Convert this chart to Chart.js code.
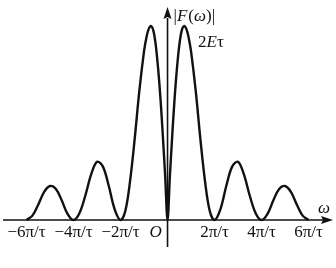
<!DOCTYPE html>
<html>
<head>
<meta charset="utf-8">
<script src="https://cdn.jsdelivr.net/npm/chart.js@4"></script>
<style>
    html, body { margin: 0; padding: 0; background: #fff; }
    #wrap { width: 336px; height: 268px; }
</style>
</head>
<body>
<div id="wrap"><canvas id="specChart"></canvas></div>
<script>
// omega in units of pi/tau, |F| in units of E*tau (peak = 2E*tau)
const omega = [
    -6.0, -5.75, -5.5, -5.25, -5.0, -4.75, -4.5, -4.25, -4.0,
    -3.75, -3.5, -3.25, -3.0, -2.75, -2.5, -2.25, -2.0,
    -1.8, -1.6, -1.4, -1.2, -1.0, -0.9, -0.8, -0.7, -0.6, -0.5, -0.4, -0.3, -0.2, -0.1,
    0,
    0.1, 0.2, 0.3, 0.4, 0.5, 0.6, 0.7, 0.8, 0.9, 1.0, 1.2, 1.4, 1.6, 1.8,
    2.0, 2.25, 2.5, 2.75, 3.0, 3.25, 3.5, 3.75,
    4.0, 4.25, 4.5, 4.75, 5.0, 5.25, 5.5, 5.75, 6.0
];
const magnitude = [
    0, 0.045, 0.16, 0.29, 0.35, 0.32, 0.2, 0.06, 0,
    0.07, 0.25, 0.47, 0.6, 0.55, 0.35, 0.11, 0,
    0.09, 0.39, 0.83, 1.33, 1.74, 1.88, 1.97, 2.0, 1.95, 1.80, 1.56, 1.25, 0.87, 0.45,
    0,
    0.45, 0.87, 1.25, 1.56, 1.80, 1.95, 2.0, 1.97, 1.88, 1.74, 1.33, 0.83, 0.39, 0.09,
    0, 0.11, 0.35, 0.55, 0.6, 0.47, 0.25, 0.07,
    0, 0.06, 0.2, 0.32, 0.35, 0.29, 0.16, 0.045, 0
];
const tickValues = [-6, -4, -2, 2, 4, 6];
const tickLabels = ["\u22126\u03c0/\u03c4", "\u22124\u03c0/\u03c4", "\u22122\u03c0/\u03c4", "2\u03c0/\u03c4", "4\u03c0/\u03c4", "6\u03c0/\u03c4"];

const serif = '"Liberation Serif", "DejaVu Serif", serif';
const fs = "17px ";

const axesPlugin = {
    id: "axesPlugin",
    afterDraw(chart) {
        const ctx = chart.ctx;
        const xs = chart.scales.x;
        const ys = chart.scales.y;
        const x0 = xs.getPixelForValue(0);
        const y0 = ys.getPixelForValue(0);

        ctx.save();
        ctx.strokeStyle = "#111";
        ctx.fillStyle = "#111";
        ctx.lineWidth = 1.6;

        // x axis
        ctx.beginPath();
        ctx.moveTo(3, y0);
        ctx.lineTo(324, y0);
        ctx.stroke();
        ctx.beginPath();
        ctx.moveTo(333, y0);
        ctx.lineTo(321, y0 - 4);
        ctx.lineTo(323, y0);
        ctx.lineTo(321, y0 + 4);
        ctx.closePath();
        ctx.fill();

        // y axis
        ctx.beginPath();
        ctx.moveTo(x0, 247);
        ctx.lineTo(x0, 18);
        ctx.stroke();
        ctx.beginPath();
        ctx.moveTo(x0, 7);
        ctx.lineTo(x0 - 4, 19);
        ctx.lineTo(x0, 17);
        ctx.lineTo(x0 + 4, 19);
        ctx.closePath();
        ctx.fill();

        // tick labels
        ctx.font = fs + serif;
        ctx.textAlign = "center";
        ctx.textBaseline = "middle";
        tickValues.forEach((v, i) => {
            ctx.fillText(tickLabels[i], xs.getPixelForValue(v), y0 + 13);
        });
        ctx.font = "italic " + fs + serif;
        ctx.fillText("O", x0 - 12, y0 + 13);

        // axis titles
        ctx.font = "italic " + fs + serif;
        ctx.fillText("\u03c9", 324, y0 - 11);
        ctx.textAlign = "left";
        ctx.font = fs + serif;
        let tx = x0 + 6;
        ctx.fillText("|", tx, 17);
        tx += ctx.measureText("|").width;
        ctx.font = "italic " + fs + serif;
        ctx.fillText("F", tx, 17);
        tx += ctx.measureText("F").width + 1;
        ctx.font = fs + serif;
        ctx.fillText("(", tx, 17);
        tx += ctx.measureText("(").width;
        ctx.font = "italic " + fs + serif;
        ctx.fillText("\u03c9", tx, 17);
        tx += ctx.measureText("\u03c9").width;
        ctx.font = fs + serif;
        ctx.fillText(")|", tx, 17);

        ctx.font = fs + serif;
        let ex = 198;
        ctx.fillText("2", ex, 43);
        ex += ctx.measureText("2").width;
        ctx.font = "italic " + fs + serif;
        ctx.fillText("E", ex, 43);
        ex += ctx.measureText("E").width;
        ctx.font = fs + serif;
        ctx.fillText("\u03c4", ex, 43);

        ctx.restore();
    }
};

new Chart(document.getElementById("specChart"), {
    type: "line",
    data: {
        datasets: [{
            data: omega.map((w, i) => ({ x: w, y: magnitude[i] })),
            borderColor: "#111",
            borderWidth: 2.4,
            pointRadius: 0,
            fill: false,
            tension: 0.35
        }]
    },
    options: {
        responsive: true,
        maintainAspectRatio: false,
        animation: false,
        layout: { padding: 0 },
        plugins: {
            legend: { display: false },
            tooltip: { enabled: false }
        },
        scales: {
            x: {
                type: "linear",
                min: -7.13,
                max: 7.17,
                display: false
            },
            y: {
                min: -0.495,
                max: 2.268,
                display: false
            }
        }
    },
    plugins: [axesPlugin]
});
</script>
</body>
</html>
